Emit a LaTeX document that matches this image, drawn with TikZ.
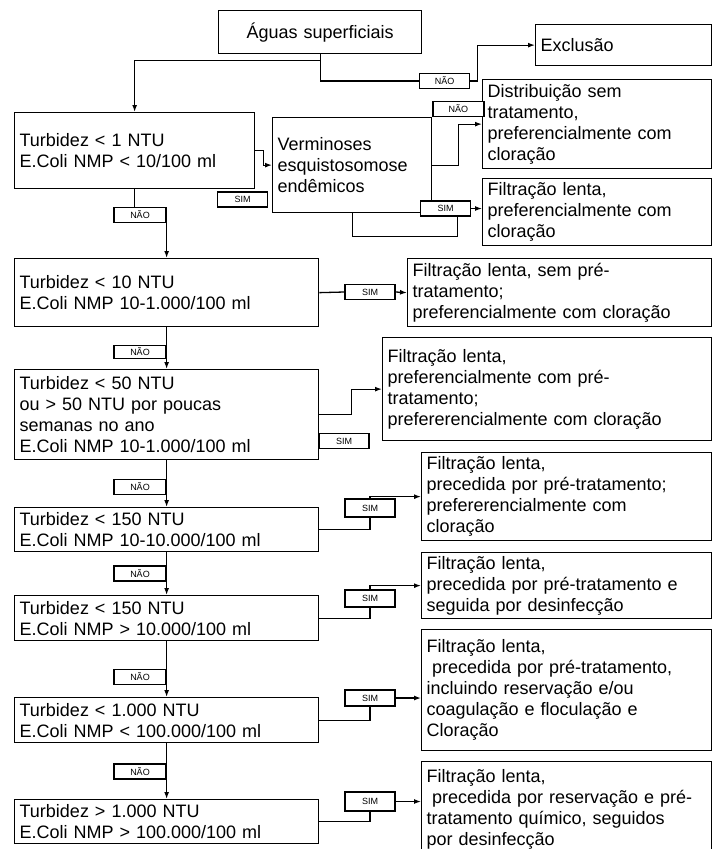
\documentclass[tikz,border=0pt]{standalone}
\usepackage{fontspec}
\setmainfont{Liberation Sans}
\usetikzlibrary{arrows.meta}
\tikzset{%
	>={Latex[length=7pt,width=5pt]},
	box/.style = {draw, rectangle, anchor=north west, align=left, inner xsep=5pt, inner ysep=2pt, font=\fontsize{18}{21}\selectfont},
	tag/.style = {draw, rectangle, fill=white, minimum width=50pt, minimum height=15pt, inner sep=0pt, font=\fontsize{9}{10}\selectfont}
}
\begin{document}
\begin{tikzpicture}[x=1pt, y=-1pt, line width=1.3pt]
	\path [use as bounding box, fill=white] (0,0) rectangle (712,849);
	% caixas de condicao
	\node [box, align=center, text width=193pt, minimum height=43pt] (agua) at (218,10) {Águas superficiais};
	\node [box, text width=166pt, minimum height=41pt] (excl) at (535,24) {Exclusão};
	\node [box, text width=230pt, minimum height=76pt] (t1) at (14,112) {Turbidez < 1 NTU\\E.Coli NMP < 10/100 ml};
	\node [box, text width=149pt, minimum height=95pt] (verm) at (272,117) {Verminoses\\esquistosomose\\endêmicos};
	\node [box, text width=294pt, minimum height=68pt] (t2) at (14,258) {Turbidez < 10 NTU\\E.Coli NMP 10-1.000/100 ml};
	\node [box, text width=294pt, minimum height=90pt] (t3) at (14,369) {Turbidez < 50 NTU\\ou > 50 NTU por poucas\\semanas no ano\\E.Coli NMP 10-1.000/100 ml};
	\node [box, text width=294pt, minimum height=44pt] (t4) at (14,507) {Turbidez < 150 NTU\\E.Coli NMP 10-10.000/100 ml};
	\node [box, text width=294pt, minimum height=45pt] (t5) at (14,595) {Turbidez < 150 NTU\\E.Coli NMP > 10.000/100 ml};
	\node [box, text width=294pt, minimum height=45pt] (t6) at (14,697) {Turbidez < 1.000 NTU\\E.Coli NMP < 100.000/100 ml};
	\node [box, text width=294pt, minimum height=44pt] (t7) at (14,799) {Turbidez > 1.000 NTU\\E.Coli NMP > 100.000/100 ml};
	% caixas de tratamento
	\node [box, text width=219pt, minimum height=89pt] (dist) at (482,79) {Distribuição sem\\tratamento,\\preferencialmente com\\cloração};
	\node [box, text width=219pt, minimum height=67pt] (f1) at (482,178) {Filtração lenta,\\preferencialmente com\\cloração};
	\node [box, text width=294pt, minimum height=68pt] (f2) at (407,258) {Filtração lenta, sem pré-\\tratamento;\\preferencialmente com cloração};
	\node [box, text width=319pt, minimum height=103pt] (f3) at (382,337) {Filtração lenta,\\preferencialmente com pré-\\tratamento;\\prefererencialmente com cloração};
	\node [box, text width=280pt, minimum height=88pt] (f4) at (421,452) {Filtração lenta,\\precedida por pré-tratamento;\\prefererencialmente com\\cloração};
	\node [box, text width=280pt, minimum height=66pt] (f5) at (421,552) {Filtração lenta,\\precedida por pré-tratamento e\\seguida por desinfecção};
	\node [box, text width=280pt, minimum height=121pt] (f6) at (421,629) {Filtração lenta,\\\hspace*{.3em}precedida por pré-tratamento,\\incluindo reservação e/ou\\coagulação e floculação e\\Cloração};
	\node [box, text width=280pt, minimum height=95pt] (f7) at (421,761) {Filtração lenta,\\\hspace*{.3em}precedida por reservação e pré-\\tratamento químico, seguidos\\por desinfecção};
	% rotulos
	\node [tag] (nao0) at (444.5,81) {NÃO};
	\node [tag, anchor=south west, minimum width=51pt] (naov) at (verm.north east) {NÃO};
	\node [tag] (simv) at (445.5,208.5) {SIM};
	\node [tag] (sim0) at (242.5,199.5) {SIM};
	\node [tag, minimum width=52pt] (nao1) at (140,215) {NÃO};
	\node [tag, minimum width=52pt, minimum height=13pt] (nao2) at (140,352) {NÃO};
	\node [tag, minimum width=52pt] (nao3) at (140,487) {NÃO};
	\node [tag, minimum width=52pt] (nao4) at (140,573.5) {NÃO};
	\node [tag, minimum width=52pt] (nao5) at (140,677) {NÃO};
	\node [tag, minimum width=52pt] (nao6) at (140,771.5) {NÃO};
	\node [tag] (sim2) at (370,292) {SIM};
	\node [tag] (sim3) at (344,441) {SIM};
	\node [tag, minimum height=18pt] (sim4) at (370,508) {SIM};
	\node [tag, minimum height=17pt] (sim5) at (370,598.5) {SIM};
	\node [tag, minimum height=16pt] (sim6) at (370,698) {SIM};
	\node [tag, minimum height=19pt] (sim7) at (370,801.5) {SIM};
	% ligacoes
	\draw [->] (agua.south) -- ++(0,6) -| (t1.north);
	\draw (agua.south) |- (nao0.west);
	\draw [->] (nao0.east) -- ++(7,0) |- (excl.west);
	\draw [->] (t1.east) -- ++(8,0) |- (verm.west);
	\draw [->] (verm.east) -- ++(26,0) |- (dist.west);
	\draw [->] (simv.east) -- (simv.east -| f1.west);
	\draw (verm.south) -- ++(0,23) -| ([xshift=12pt]simv.south);
	\draw (t1.south) -- (nao1.north -| t1.south);
	\draw [->] (nao1.south east) -- (nao1.south east |- t2.north);
	\draw [->] (t2.south -| nao2.east) -- (t3.north -| nao2.east);
	\draw [->] (t3.south -| nao3.east) -- (t4.north -| nao3.east);
	\draw [->] (t4.south -| nao4.east) -- (t5.north -| nao4.east);
	\draw [->] (t5.south -| nao5.east) -- (t6.north -| nao5.east);
	\draw [->] (t6.south -| nao6.east) -- (t7.north -| nao6.east);
	\draw (t2.east) -- (sim2.west);
	\draw [->] (sim2.east) -- (f2.west);
	\draw [->] (t3.east) -- ++(32,0) |- (f3.west);
	\draw (t4.east) -| (sim4.south);
	\draw [->] (sim4.north) |- (f4.west);
	\draw (t5.east) -| (sim5.south);
	\draw [->] (sim5.north) |- (f5.west);
	\draw (t6.east) -| (sim6.south);
	\draw [->] (sim6.east) -- (sim6.east -| f6.west);
	\draw (t7.east) -| (sim7.south);
	\draw [->] (sim7.east) -- (sim7.east -| f7.west);
\end{tikzpicture}
\end{document}
